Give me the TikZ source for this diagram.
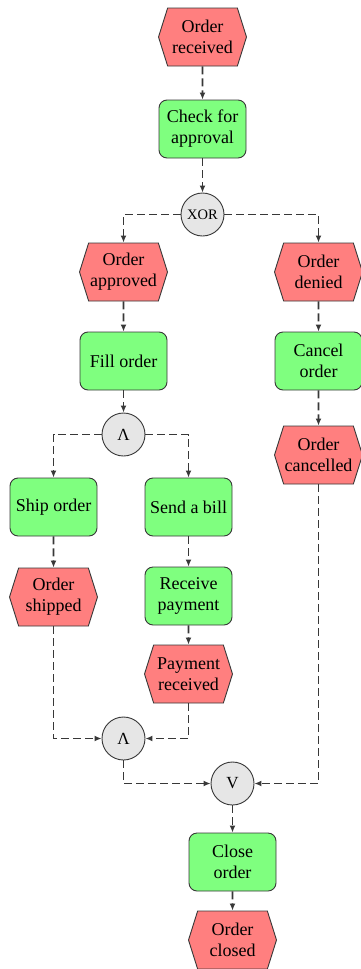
\documentclass[tikz,border=0pt]{standalone}
\usepackage{fontspec}
\setmainfont{Liberation Serif}
\newfontfamily\diagfont{Liberation Serif}
\usetikzlibrary{shapes.symbols,arrows.meta}
\definecolor{evfill}{HTML}{FF7F7F}
\definecolor{tkfill}{HTML}{7FFF7F}
\definecolor{gtfill}{HTML}{E6E6E6}
\definecolor{edgecol}{HTML}{383838}
\begin{document}
\begin{tikzpicture}[x=1pt,y=-1pt,
  event/.style={signal, signal to=east and west, signal pointer angle=145,
    draw=edgecol, fill=evfill, minimum width=88pt, minimum height=58pt,
    inner sep=0pt, align=center, font=\diagfont\fontsize{18}{21}\selectfont, line width=0.9pt},
  task/.style={rectangle, rounded corners=8pt, draw=edgecol, fill=tkfill,
    minimum width=87pt, minimum height=58pt, inner sep=0pt, align=center,
    font=\diagfont\fontsize{18}{21}\selectfont, line width=0.9pt},
  gate/.style={circle, draw=edgecol, fill=gtfill, minimum size=43pt,
    inner sep=0pt, line width=0.9pt, font=\diagfont\fontsize{17}{18}\selectfont},
  flow/.style={draw=edgecol, dash pattern=on 8pt off 4pt, line width=1.6pt,
    -{Latex[length=7pt,width=6pt]}}]
\useasboundingbox (0,0) rectangle (360,969);

\node[event] (er) at (202.5,37) {Order\\received};
\node[task] (cfa) at (202.5,129) {Check for\\approval};
\node[gate, font=\diagfont\fontsize{14.5}{16}\selectfont] (xor) at (202.5,214.5) {XOR};
\node[event] (oa) at (123.5,272) {Order\\approved};
\node[event] (od) at (318.5,272) {Order\\denied};
\node[task] (fo) at (123.5,361) {Fill order};
\node[task] (co) at (318.5,361) {Cancel\\order};
\node[gate] (and1) at (123.5,434.5) {Λ};
\node[event] (oc) at (318.5,455) {Order\\cancelled};
\node[task] (so) at (53.5,507) {Ship order};
\node[task] (sb) at (188.5,507) {Send a bill};
\node[event] (osh) at (53.5,597) {Order\\shipped};
\node[task] (rp) at (188.5,596) {Receive\\payment};
\node[event] (pr) at (188.5,674) {Payment\\received};
\node[gate] (and2) at (123.5,738.5) {Λ};
\node[gate] (or) at (232.5,783.5) {V};
\node[task] (clo) at (232.5,862) {Close\\order};
\node[event] (ocl) at (232.5,940) {Order\\closed};

\draw[flow] (er) -- (cfa);
\draw[flow] (cfa) -- (xor);
\draw[flow] (xor.west) -| (oa.north);
\draw[flow] (xor.east) -| (od.north);
\draw[flow] (oa) -- (fo);
\draw[flow] (od) -- (co);
\draw[flow] (co) -- (oc);
\draw[flow] (fo) -- (and1);
\draw[flow] (and1.west) -| (so.north);
\draw[flow] (and1.east) -| (sb.north);
\draw[flow] (so) -- (osh);
\draw[flow] (sb) -- (rp);
\draw[flow] (rp) -- (pr);
\draw[flow] (osh.south) |- (and2.west);
\draw[flow] (pr.south) |- (and2.east);
\draw[flow] (and2.south) |- (or.west);
\draw[flow] (oc.south) |- (or.east);
\draw[flow] (or) -- (clo);
\draw[flow] (clo) -- (ocl);
\end{tikzpicture}
\end{document}
